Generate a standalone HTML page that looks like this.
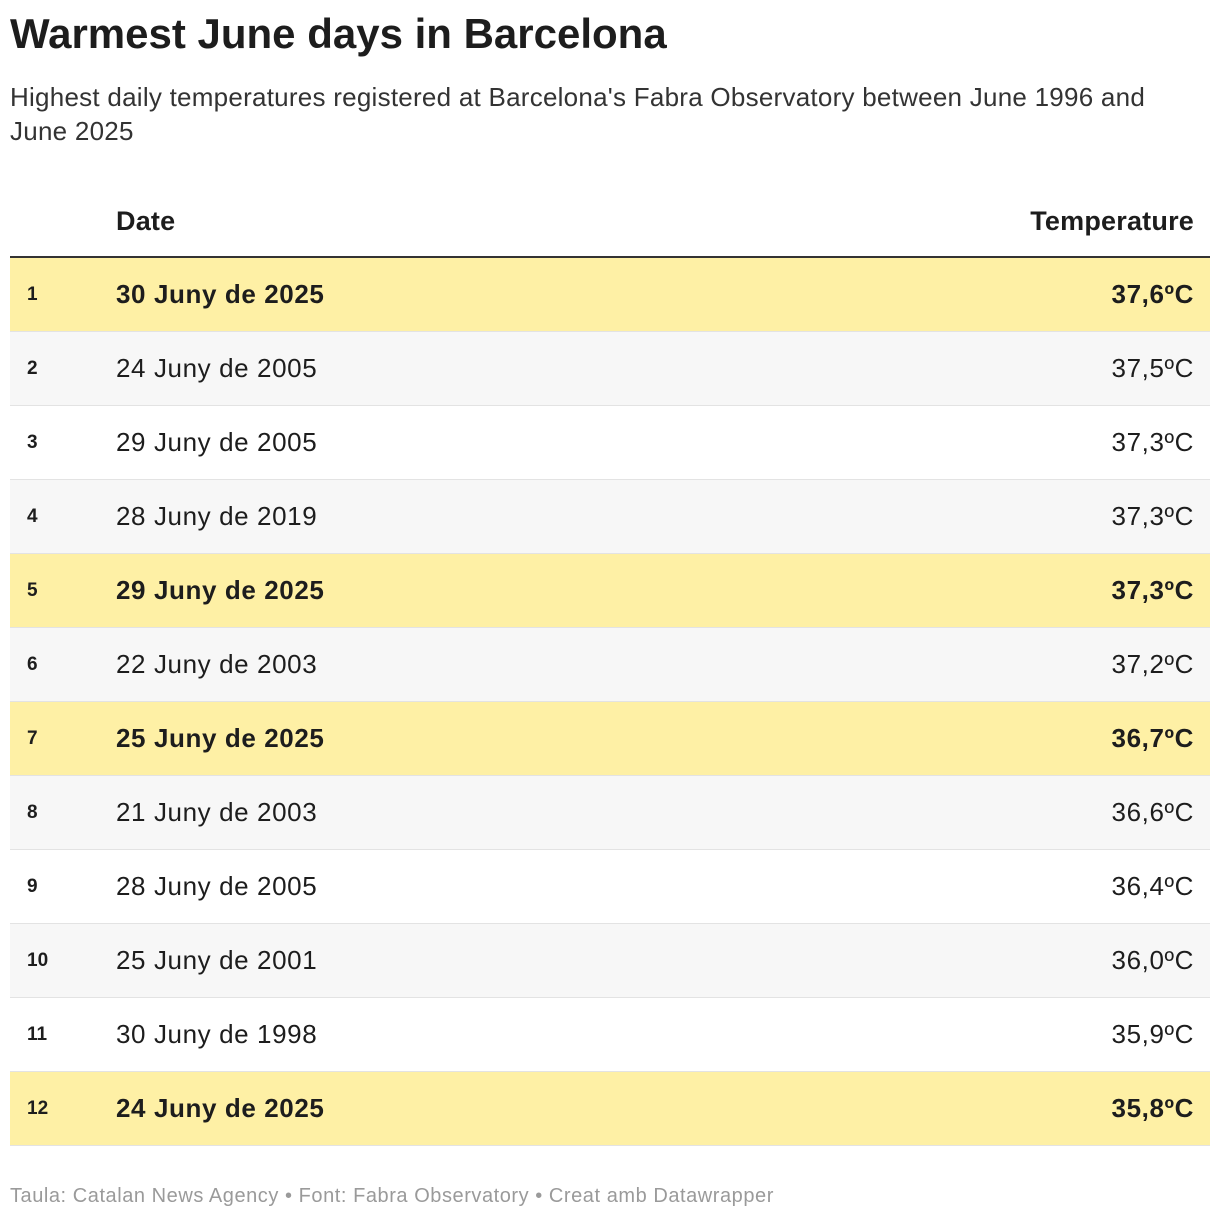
<!DOCTYPE html>
<html><head><meta charset="utf-8"><style>
body{margin:0;width:1220px;height:1220px;background:#fff;font-family:"Liberation Sans",sans-serif;color:#1d1d1d;position:relative;overflow:hidden}
h1{position:absolute;left:10px;top:10px;margin:0;font-size:42px;font-weight:bold;letter-spacing:0px}
.sub{position:absolute;left:10px;top:80px;width:1195px;font-size:26px;line-height:34px;color:#333;letter-spacing:0.25px}
table{position:absolute;left:10px;top:186px;width:1200px;border-collapse:collapse}
th{height:70px;font-size:27px;font-weight:bold;text-align:left;padding:0;vertical-align:middle;border-bottom:2px solid #333;letter-spacing:0.2px}
td{height:73px;padding:0;font-size:26px;border-bottom:1px solid #e3e3e3;letter-spacing:0.6px}
td.r{font-size:19px;font-weight:bold;padding-left:17px;width:89px;letter-spacing:0}
.t{text-align:right;padding-right:16px}
tr.g td{background:#f7f7f7}
tr.h td{background:#fef0a5;font-weight:bold}
.foot{position:absolute;left:10px;top:1185px;font-size:20px;color:#9a9a9a;letter-spacing:0.55px}
</style></head><body>
<h1>Warmest June days in Barcelona</h1>
<div class="sub">Highest daily temperatures registered at Barcelona's Fabra Observatory between June 1996 and June 2025</div>
<table>
<thead><tr><th></th><th>Date</th><th class="t">Temperature</th></tr></thead>
<tbody id="tb"></tbody>
</table>
<div class="foot">Taula: Catalan News Agency • Font: Fabra Observatory • Creat amb Datawrapper</div>
<script>
const dates=["30 Juny de 2025","24 Juny de 2005","29 Juny de 2005","28 Juny de 2019","29 Juny de 2025","22 Juny de 2003","25 Juny de 2025","21 Juny de 2003","28 Juny de 2005","25 Juny de 2001","30 Juny de 1998","24 Juny de 2025"];
const temps=["37,6ºC","37,5ºC","37,3ºC","37,3ºC","37,3ºC","37,2ºC","36,7ºC","36,6ºC","36,4ºC","36,0ºC","35,9ºC","35,8ºC"];
const tb=document.getElementById('tb');
dates.forEach((d,i)=>{
const tr=document.createElement('tr');


if(d.indexOf('2025')>=0)tr.className='h';else if(i%2==1)tr.className='g';
tr.innerHTML='<td class="r">'+(i+1)+'</td><td>'+d+'</td><td class="t">'+temps[i]+'</td>';
tb.appendChild(tr);
});
</script>
</body></html>
